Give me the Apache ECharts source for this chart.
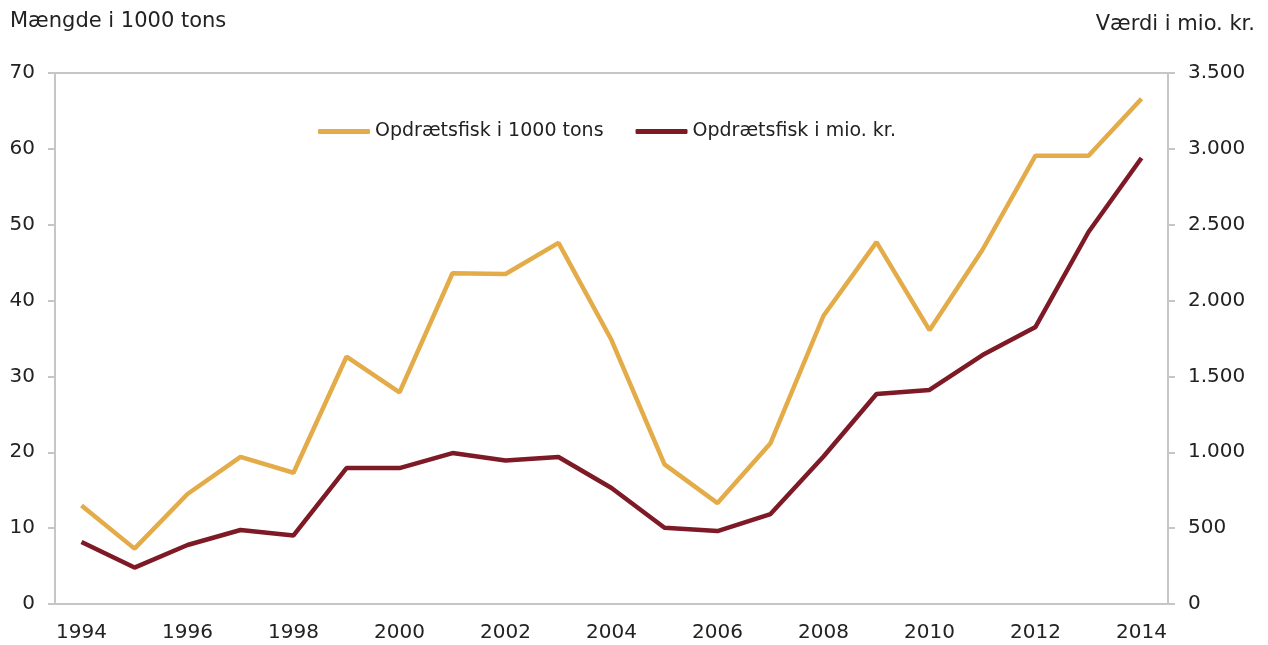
<!DOCTYPE html>
<html>
<head>
    <meta charset="utf-8">
    <title>Opdrætsfisk</title>
    <style>
        html, body { margin: 0; padding: 0; background: #fff; }
        #chart { width: 1268px; height: 645px; }
    </style>
</head>
<body>
    <div id="chart"></div>
    <script src="https://cdn.jsdelivr.net/npm/echarts@6/dist/echarts.min.js"></script>
    <script>
        // år
        var years = ['1994', '1995', '1996', '1997', '1998', '1999', '2000', '2001', '2002', '2003', '2004',
            '2005', '2006', '2007', '2008', '2009', '2010', '2011', '2012', '2013', '2014'];
        // mængde i 1000 tons (venstre akse)
        var maengde = [13.0, 7.3, 14.5, 19.4, 17.3, 32.6, 27.9, 43.6, 43.5, 47.6, 34.8,
            18.4, 13.3, 21.2, 38.0, 47.7, 36.1, 46.7, 59.1, 59.1, 66.6];
        // værdi i mio. kr. (højre akse)
        var vaerdi = [409, 240, 389, 488, 452, 896, 896, 995, 946, 969, 765,
            503, 481, 593, 972, 1384, 1411, 1641, 1826, 2452, 2940];

        var seriesNames = ['Opdrætsfisk i 1000 tons', 'Opdrætsfisk i mio. kr.'];
        var colors = ['#E4AB49', '#7E1A26'];

        var font = 'DejaVu Sans';
        var axisGrey = '#c6c6c6';
        var textColor = '#222';

        function fmtThousands(v) {
            return String(v).replace(/\B(?=(\d{3})+(?!\d))/g, '.');
        }

        var chart = echarts.init(document.getElementById('chart'));

        var option = {
            animation: false,
            textStyle: { fontFamily: font },
            title: [{
                text: 'Mængde i 1000 tons',
                left: 10, top: 11, padding: 0,
                textStyle: { fontFamily: font, fontSize: 21, fontWeight: 'normal', color: textColor }
            }, {
                text: 'Værdi i mio. kr.',
                right: 13, top: 14, padding: 0,
                textStyle: { fontFamily: font, fontSize: 21, fontWeight: 'normal', color: textColor }
            }],
            legend: {
                left: 318,
                top: 122,
                padding: 0,
                icon: 'roundRect',
                itemWidth: 52,
                itemHeight: 5,
                itemGap: 32,
                textStyle: { fontFamily: font, fontSize: 19, color: textColor },
                data: seriesNames
            },
            grid: {
                left: 55, right: 100, top: 73, bottom: 41,
                show: true,
                borderColor: axisGrey,
                borderWidth: 2
            },
            xAxis: {
                type: 'category',
                data: years,
                boundaryGap: true,
                axisLine: { lineStyle: { color: axisGrey, width: 2 } },
                axisTick: { interval: 0, length: 8, lineStyle: { color: axisGrey, width: 2 } },
                axisLabel: { interval: 1, margin: 19, fontSize: 20, color: textColor, fontFamily: font }
            },
            yAxis: [{
                type: 'value',
                min: 0, max: 70, interval: 10,
                axisLine: { show: true, lineStyle: { color: axisGrey, width: 2 } },
                axisTick: { show: true, length: 7, lineStyle: { color: axisGrey, width: 2 } },
                axisLabel: { margin: 20, fontSize: 20, color: textColor, fontFamily: font },
                splitLine: { show: false }
            }, {
                type: 'value',
                position: 'right',
                min: 0, max: 3500, interval: 500,
                axisLine: { show: true, lineStyle: { color: axisGrey, width: 2 } },
                axisTick: { show: true, length: 7, lineStyle: { color: axisGrey, width: 2 } },
                axisLabel: { margin: 20, fontSize: 20, color: textColor, fontFamily: font, formatter: fmtThousands },
                splitLine: { show: false }
            }],
            series: [{
                name: seriesNames[0],
                type: 'line',
                yAxisIndex: 0,
                data: maengde,
                symbol: 'none',
                color: colors[0],
                lineStyle: { width: 4.5, color: colors[0] }
            }, {
                name: seriesNames[1],
                type: 'line',
                yAxisIndex: 1,
                data: vaerdi,
                symbol: 'none',
                color: colors[1],
                lineStyle: { width: 4.5, color: colors[1] }
            }]
        };

        chart.setOption(option);
    </script>
</body>
</html>
